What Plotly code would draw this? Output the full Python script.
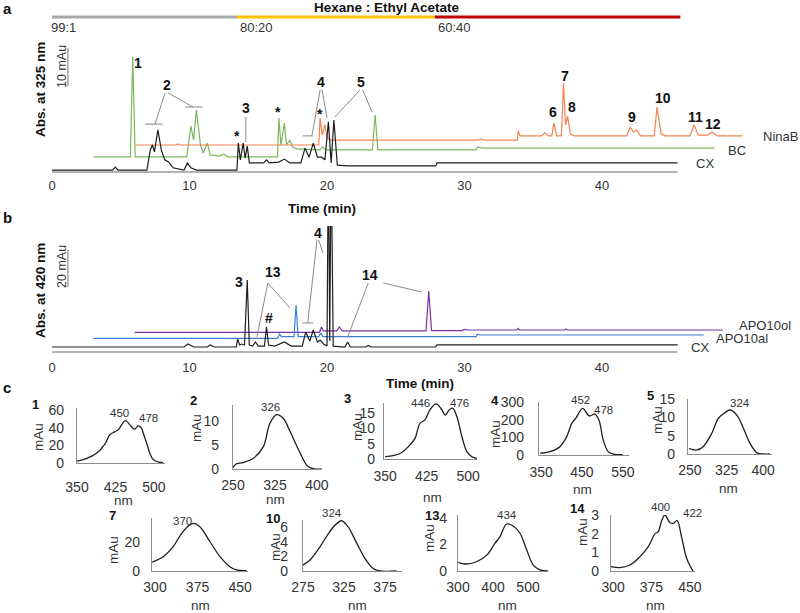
import plotly.graph_objects as go

OFF = 0
W, H = 800 - OFF, 613 - OFF
FONT = "Arial, Liberation Sans, Helvetica, sans-serif"

# ---------------- DATA ----------------
time_ticks = [0, 10, 20, 30, 40]
run_end = 45.5
solvent_labels = ["99:1", "80:20", "60:40"]
solvent_starts = [-0.15, 13.45, 27.85]
solvent_ends = [13.45, 27.85, 45.7]

# panel a (Abs. at 325 nm), (time min, mAu incl. offset)
cx_a = [(0, 0.5), (4.4, 0.5), (4.6, 1.3), (4.8, 0.5), (6.9, 0.5), (7.15, 5.8), (7.3, 7.1), (7.45, 5.3),
        (7.7, 11.1), (7.95, 5.8), (8.2, 3.2), (8.5, 2.6), (8.8, 1.1), (9.6, 0.5), (9.85, 2.4), (10.1, 1.1),
        (10.5, 0.5), (13.45, 0.5), (13.55, 7.6), (13.7, 3.2), (13.9, 7.6), (14.05, 3.7), (14.2, 6.8),
        (14.35, 2.4), (15.4, 2.4), (15.6, 3.2), (15.8, 2.4), (16.5, 2.6), (16.9, 3.4), (17.3, 2.4),
        (18.1, 2.4), (18.4, 6.3), (18.7, 3.9), (19.0, 7.6), (19.3, 3.9), (19.6, 3.9), (19.85, 3.2),
        (20.1, 13.2), (20.3, 2.4), (20.5, 13.7), (20.75, 1.8), (21.5, 1.6), (27.9, 1.6), (28.0, 2.4),
        (45.5, 2.4)]
bc_a = [(3.0, 4.0), (5.7, 4.0), (5.87, 30.3), (6.05, 4.0), (9.8, 4.0), (10.1, 12.1), (10.3, 8.4),
        (10.5, 16.3), (10.8, 7.1), (11.0, 5.0), (11.3, 7.6), (11.5, 4.5), (12.2, 4.2), (12.5, 4.7),
        (12.8, 4.0), (16.4, 4.0), (16.5, 14.2), (16.65, 7.1), (16.9, 12.9), (17.05, 7.1), (17.3, 8.4),
        (17.5, 6.6), (17.8, 6.1), (19.5, 5.8), (19.7, 6.6), (19.9, 5.8), (23.3, 5.8), (23.5, 15.0),
        (23.7, 5.8), (30.85, 5.8), (30.95, 6.6), (31.3, 6.3), (48.2, 6.3)]
ninab_a = [(6.05, 7.1), (9.0, 7.1), (9.15, 7.4), (9.3, 7.1), (19.4, 7.1), (19.5, 14.2), (19.65, 9.7),
           (19.85, 12.4), (20.0, 8.9), (20.3, 8.4), (31.0, 8.4), (31.2, 8.7), (31.4, 8.4), (33.85, 8.4),
           (33.9, 10.8), (34.05, 9.5), (35.6, 9.5), (35.85, 10.3), (36.1, 9.5), (36.35, 9.5), (36.5, 12.9),
           (36.7, 9.5), (37.05, 9.5), (37.2, 23.4), (37.35, 12.4), (37.5, 14.7), (37.7, 10.0), (38.0, 9.5),
           (41.8, 9.5), (42.05, 11.8), (42.3, 10.5), (42.5, 11.1), (42.8, 9.5), (43.8, 9.5), (44.0, 17.1),
           (44.3, 10.0), (44.6, 9.5), (46.4, 9.5), (46.7, 12.4), (47.0, 9.7), (47.7, 9.7), (48.0, 10.5),
           (48.4, 9.5), (50.2, 9.5)]

# panel b (Abs. at 420 nm)
cx_b = [(0, 2.7), (9.6, 2.7), (9.9, 4.3), (10.3, 2.7), (11.3, 2.7), (11.5, 3.8), (11.8, 2.7), (13.4, 2.7),
        (13.5, 7.0), (13.65, 3.8), (13.8, 4.3), (14.0, 3.8), (14.2, 38.9), (14.35, 3.8), (14.6, 3.2),
        (14.8, 5.4), (15.0, 3.2), (15.45, 3.2), (15.6, 13.5), (15.75, 3.8), (16.2, 3.2), (16.9, 5.4),
        (17.4, 3.2), (18.2, 3.2), (18.45, 10.8), (18.75, 5.9), (19.0, 11.9), (19.3, 5.4), (19.5, 6.5),
        (19.75, 4.3), (20.0, 3.2), (20.1, 110), (20.2, 6.0), (20.3, 110), (20.45, 3.2), (21.3, 2.7),
        (21.5, 5.4), (21.7, 2.7), (22.8, 2.7), (23.0, 3.5), (23.2, 2.7), (27.9, 2.7), (28.0, 3.8),
        (45.5, 3.8)]
apo10al_b = [(3.0, 7.4), (16.4, 7.4), (16.55, 9.7), (16.7, 8.3), (17.6, 8.3), (17.75, 25.4), (17.9, 8.3),
             (19.4, 8.3), (19.55, 10.3), (19.7, 8.3), (30.85, 8.3), (30.95, 9.7), (31.1, 9.2), (47.4, 9.2)]
apo10ol_b = [(6.0, 10.6), (19.45, 10.6), (19.6, 13.5), (19.75, 11.4), (20.7, 11.4), (20.9, 13.5),
             (21.1, 11.4), (27.2, 11.4), (27.4, 33.0), (27.6, 11.6), (29.8, 11.6), (30.0, 12.2),
             (30.2, 11.9), (33.8, 11.9), (33.9, 12.7), (34.0, 11.9), (37.3, 11.9), (37.4, 12.4),
             (37.5, 11.9), (48.8, 11.9)]

# panel c spectra (nm, mAu)
sp1 = [(350, 2.0), (368, 5), (388, 11), (405, 22), (414, 32), (424, 35.5), (431, 38), (444, 48), (452, 44),
       (458, 40), (463, 38.5), (469, 42), (475, 40), (479, 34), (486, 22), (492, 11), (497, 5), (502, 2.6),
       (510, 1), (518, 0.3)]
sp2 = [(250, 0.3), (255, 1.0), (262, 1.2), (270, 1.4), (286, 2.2), (304, 4.6), (316, 9.5), (328, 11.3),
       (340, 10.5), (352, 7.8), (370, 3.3), (384, 0.5), (396, 0), (408, 0)]
sp3 = [(350, 0.75), (377, 1.8), (395, 4.6), (404, 6.7), (413, 11.6), (422, 12.7), (431, 16), (442, 17.9),
       (450.7, 16.5), (458.5, 14.3), (466, 16), (472, 16.5), (479.6, 13.8), (488.7, 7.3), (497.7, 2.4),
       (506.8, 0.75), (516, 0.2)]
sp4 = [(348, 10), (372, 19), (396, 47), (412.7, 104), (425, 179), (435, 208), (451.7, 264), (468, 221),
       (481.7, 232), (491.5, 198), (502, 85), (514, 19), (526, 5.6), (550, 2)]
sp5 = [(248, 1.5), (263.7, 1.1), (277, 2), (294.5, 5.6), (308, 9.7), (318, 10.9), (332, 12), (346, 10.6),
       (359.5, 7), (373, 2.9), (387, 0.35), (400.5, 0), (414, 0)]
sp7 = [(295, 6.2), (314.6, 9.9), (332, 16.8), (347, 26), (358.8, 31), (367.6, 32.9), (379, 30.6),
       (397, 20.2), (414.6, 9.9), (432, 3), (444, 0.7), (461.7, 0.2)]
sp10 = [(275, 0.8), (283.5, 1.5), (295.7, 3.3), (306, 5.1), (312, 6.0), (322, 6.85), (330, 6.0),
        (340.5, 3.8), (350.6, 1.7), (360.7, 0.35), (369, 0), (389, 0)]
sp13 = [(301, 0.65), (320, 0.53), (353, 0.7), (382, 1.2), (405.7, 2.1), (420, 2.6), (439, 3.55), (458, 3.4),
        (477, 2.85), (496, 1.6), (515, 0.45), (534, 0.08), (558, 0)]
sp14 = [(296, 0.23), (313.6, 0.18), (333, 0.32), (352.6, 0.77), (368.8, 1.3), (382, 2.0), (388, 2.1),
        (395, 2.7), (401, 3.0), (411, 2.6), (417.5, 2.55), (425, 2.7), (434, 1.8), (443.6, 0.68),
        (453, 0.14), (456.5, 0)]

spec_series = [sp1, sp2, sp3, sp4, sp5, sp7, sp10, sp13, sp14]
spec_ids = ["1", "2", "3", "4", "5", "7", "10", "13", "14"]
spec_xticks = [[350, 425, 500], [250, 325, 400], [350, 425, 500], [350, 450, 550], [250, 325, 400],
               [300, 375, 450], [275, 325, 375], [300, 400, 500], [300, 375, 450]]
spec_yticks = [[0, 20, 40, 60], [0, 5, 10], [0, 5, 10, 15], [0, 100, 200, 300], [0, 5, 10, 15],
               [0, 20], [0, 2, 4, 6], [0, 2, 4], [0, 1, 2, 3]]
spec_xrange = [(350, 521.5), (250, 409), (348, 516), (345, 565), (246, 418), (294.7, 464), (275, 395.7),
               (300, 557), (296, 460)]
spec_ymax = [62.3, 13.3, 18.2, 300, 15, 36.6, 6.95, 4.23, 3.0]
spec_peaks = [["450", "478"], ["326"], ["446", "476"], ["452", "478"], ["324"], ["370"], ["324"], ["434"],
              ["400", "422"]]

# ---------------- LAYOUT GEOMETRY (window pixels) ----------------
spec_box = [(77, 165, 463, 408), (233, 322, 469, 405), (384, 477, 459, 403), (539, 629, 455, 402),
            (688, 772, 454, 399), (152, 248, 571, 518), (303, 402, 571, 520), (458, 548, 571, 515),
            (611, 695, 571, 515)]
spec_xstand = [11, 3, 4, 4, 3, 3, 3, 3, 3]
spec_ystand = [9, 10, 5, 11, 9, 8, 11, 7, 8]
id_pos = [(35, 404), (193, 400), (347, 398), (495, 400), (650, 395), (113, 515), (273, 518), (432, 515),
          (577, 508)]
mau_pos = [(38, 437), (196, 428), (357, 427), (495, 434), (657, 420), (113, 550), (275, 547), (429, 538),
           (582, 532)]
nm_pos = [(123, 500), (275, 499), (432, 497), (582, 489), (728, 488), (200, 605), (357, 605), (507, 605),
          (655, 605)]
peak_pos = [[(119, 413), (148, 418)], [(270, 407)], [(420, 403), (460, 403)], [(580, 400), (603, 410)],
            [(740, 403)], [(182, 521)], [(332, 513)], [(507, 515)], [(660, 507), (692, 513)]]

BLACK = "#1e1e1e"
GREEN = "#78b85a"
ORANGE = "#f5824f"
BLUE = "#3f7fd8"
PURPLE = "#7633a6"
AXG = "#9a9a9a"
LEAD = "#8a8a8a"
TXT = "#333333"


def X(px):
    return (px - OFF) / W


def Y(py):
    return 1 - (py - OFF) / H


fig = go.Figure()


def add_line(pairs, xa, ya, color, width=1.2, shape="linear"):
    fig.add_trace(go.Scatter(x=[p[0] for p in pairs], y=[p[1] for p in pairs], mode="lines",
                             line=dict(color=color, width=width, shape=shape, smoothing=1.0),
                             xaxis=xa, yaxis=ya, hoverinfo="skip", showlegend=False))


def T(text, x, y, size=13, bold=False, color=TXT, xanchor="center", angle=0, xref="paper", yref="paper"):
    if xref == "paper":
        x = X(x)
    if yref == "paper":
        y = Y(y)
    fig.add_annotation(text=("<b>%s</b>" % text) if bold else text, x=x, y=y, xref=xref, yref=yref,
                       showarrow=False, xanchor=xanchor, yanchor="middle", textangle=angle,
                       font=dict(size=size, color=color, family=FONT), borderpad=0)


def L(x0, y0, x1, y1, xref, yref, color=LEAD, width=1):
    fig.add_shape(type="line", x0=x0, y0=y0, x1=x1, y1=y1, xref=xref, yref=yref,
                  line=dict(color=color, width=width))


# ---------- panel a ----------
fig.add_trace(go.Scatter(x=[0, run_end], y=[0, 0], mode="lines", line=dict(color=AXG, width=1.5),
                         xaxis="x", yaxis="y", hoverinfo="skip", showlegend=False))
add_line(bc_a, "x", "y", GREEN)
add_line(ninab_a, "x", "y", ORANGE)
add_line(cx_a, "x", "y", BLACK)

# ---------- panel b ----------
fig.add_trace(go.Scatter(x=[0, run_end], y=[0, 0], mode="lines", line=dict(color=AXG, width=1.5),
                         xaxis="x2", yaxis="y2", hoverinfo="skip", showlegend=False))
add_line(apo10ol_b, "x2", "y2", PURPLE)
add_line(apo10al_b, "x2", "y2", BLUE)
add_line(cx_b, "x2", "y2", BLACK)

# ---------- spectra ----------
for i, s in enumerate(spec_series):
    n = i + 3
    add_line(s, "x%d" % n, "y%d" % n, BLACK, width=1.3, shape="spline")

xa_dom = [X(52), X(790)]
xa_rng = [0, (790 - 52) / 13.75]
layout = dict(
    template="none",
    width=W, height=H, margin=dict(l=0, r=0, t=0, b=0, autoexpand=False),
    paper_bgcolor="white", plot_bgcolor="rgba(0,0,0,0)", showlegend=False,
    font=dict(family=FONT, color=TXT, size=13),
    xaxis=dict(domain=xa_dom, range=xa_rng, tickvals=time_ticks, showgrid=False, zeroline=False,
               showline=False, ticks="", ticklen=0, tickfont=dict(size=13, color=TXT), anchor="y",
               ticklabelstandoff=0, automargin=False),
    yaxis=dict(domain=[Y(175.8), Y(40)], range=[-1, 34.74], visible=False, anchor="x",
               automargin=False),
    xaxis2=dict(domain=xa_dom, range=xa_rng, tickvals=time_ticks, showgrid=False, zeroline=False,
                showline=False, ticks="", ticklen=0, tickfont=dict(size=13, color=TXT), anchor="y2",
                ticklabelstandoff=4, automargin=False),
    yaxis2=dict(domain=[Y(353.85), Y(226)], range=[-1, 68.1], visible=False, anchor="x2",
                automargin=False),
)
for i in range(9):
    n = i + 3
    x0, x1, yb, yt = spec_box[i]
    layout["xaxis%d" % n] = dict(domain=[X(x0), X(x1)], range=list(spec_xrange[i]), tickvals=spec_xticks[i],
                                 showgrid=False, zeroline=False, showline=True, linecolor="#8c8c8c",
                                 linewidth=1.2, ticks="", ticklen=0, anchor="y%d" % n, automargin=False,
                                 tickfont=dict(size=14, color=TXT), ticklabelstandoff=spec_xstand[i])
    layout["yaxis%d" % n] = dict(domain=[Y(yb), Y(yt)], range=[0, spec_ymax[i]],
                                 tickvals=spec_yticks[i], showgrid=False, zeroline=False, showline=True,
                                 linecolor="#8c8c8c", linewidth=1.2, ticks="", ticklen=0, anchor="x%d" % n,
                                 automargin=False,
                                 tickfont=dict(size=14, color=TXT), ticklabelstandoff=spec_ystand[i])
fig.update_layout(**layout)

# ---------- solvent gradient bar ----------
for s0, s1, col in zip(solvent_starts, solvent_ends, ["#a8a8a8", "#ffc000", "#c00000"]):
    L(s0, Y(17), s1, Y(17), "x", "paper", color=col, width=3)
T("Hexane : Ethyl Acetate", 387, 7, size=13.5, bold=True, color="#111")
for lab, px in zip(solvent_labels, [50, 239, 437]):
    T(lab, px, 27, size=13, xanchor="left")

# ---------- panel labels / titles ----------
T("a", 2, 8, size=15, bold=True, color="#111", xanchor="left")
T("b", 2, 218, size=15, bold=True, color="#111", xanchor="left")
T("c", 2, 387, size=15, bold=True, color="#111", xanchor="left")
T("Abs. at 325 nm", 40, 90, size=13.5, bold=True, color="#111", angle=-90)
T("Abs. at 420 nm", 40, 291, size=13.5, bold=True, color="#111", angle=-90)
T("Time (min)", 322, 208, size=13.5, bold=True, color="#111")
T("Time (min)", 420, 383, size=13.5, bold=True, color="#111")

# scale bars
L(1.16, 22.6, 1.16, 32.6, "x", "y", color=LEAD, width=1.2)
T("10 mAu", 62, 67, size=12.5, angle=-90)
L(1.16, 35.1, 1.16, 55.1, "x2", "y2", color=LEAD, width=1.2)
T("20 mAu", 62, 267, size=12.5, angle=-90)

# trace names
T("NinaB", 762, 136, xanchor="left")
T("BC", 727, 150, xanchor="left")
T("CX", 695, 163, xanchor="left")
T("APO10ol", 738, 325, xanchor="left")
T("APO10al", 715, 338, xanchor="left")
T("CX", 690, 347, xanchor="left")

# ---------- panel a peak labels ----------
for lab, t, v in [("1", 6.25, 28.7), ("2", 8.36, 22.9), ("3", 14.1, 16.8), ("4", 19.56, 23.7),
                  ("5", 22.5, 23.7), ("6", 36.4, 15.8), ("7", 37.3, 25.3), ("8", 37.8, 17.1),
                  ("9", 42.2, 14.5), ("10", 44.4, 19.5), ("11", 46.8, 14.5), ("12", 48.1, 12.6)]:
    T(lab, t, v, size=14, bold=True, color="#111", xref="x", yref="y")
for t, v in [(13.45, 9.4), (16.44, 15.8), (19.5, 15.2)]:
    T("*", t, v, size=14, bold=True, color="#111", xref="x", yref="y")
# leaders a
L(8.22, 20.8, 7.49, 12.6, "x", "y"); L(6.76, 12.6, 8.07, 12.6, "x", "y")
L(8.44, 20.8, 10.25, 17.1, "x", "y"); L(9.67, 17.1, 10.98, 17.1, "x", "y")
L(14.1, 14.5, 14.1, 7.9, "x", "y")
L(19.5, 21.6, 18.9, 9.5, "x", "y"); L(18.25, 9.5, 18.98, 9.5, "x", "y")
L(19.64, 21.6, 20.0, 14.2, "x", "y")
L(22.4, 21.6, 20.58, 14.5, "x", "y")
L(22.6, 21.6, 23.27, 15.8, "x", "y")

# ---------- panel b peak labels ----------
for lab, t, v in [("3", 13.6, 37.8), ("13", 16.07, 43.2), ("#", 15.8, 18.4), ("4", 19.35, 64.3),
                  ("14", 23.1, 41.6)]:
    T(lab, t, v, size=14, bold=True, color="#111", xref="x2", yref="y2")
L(15.7, 37.3, 14.9, 8.1, "x2", "y2")
L(15.7, 37.3, 17.3, 23.8, "x2", "y2")
L(19.27, 60.5, 18.6, 15.7, "x2", "y2"); L(18.2, 15.7, 19.0, 15.7, "x2", "y2")
L(19.4, 60.5, 19.7, 53.5, "x2", "y2")
L(23.0, 37.3, 21.5, 8.1, "x2", "y2")
L(24.1, 37.3, 26.9, 32.4, "x2", "y2")

# ---------- spectra texts ----------
for i in range(9):
    T(spec_ids[i], *id_pos[i], size=13, bold=True, color="#111")
    T("mAu", *mau_pos[i], size=13.5, angle=-90)
    T("nm", *nm_pos[i], size=13.5)
    for lab, pos in zip(spec_peaks[i], peak_pos[i]):
        T(lab, *pos, size=11.5)

fig.write_html("out.html", config={"displayModeBar": False},
               post_script="document.body.style.margin='0px';")
